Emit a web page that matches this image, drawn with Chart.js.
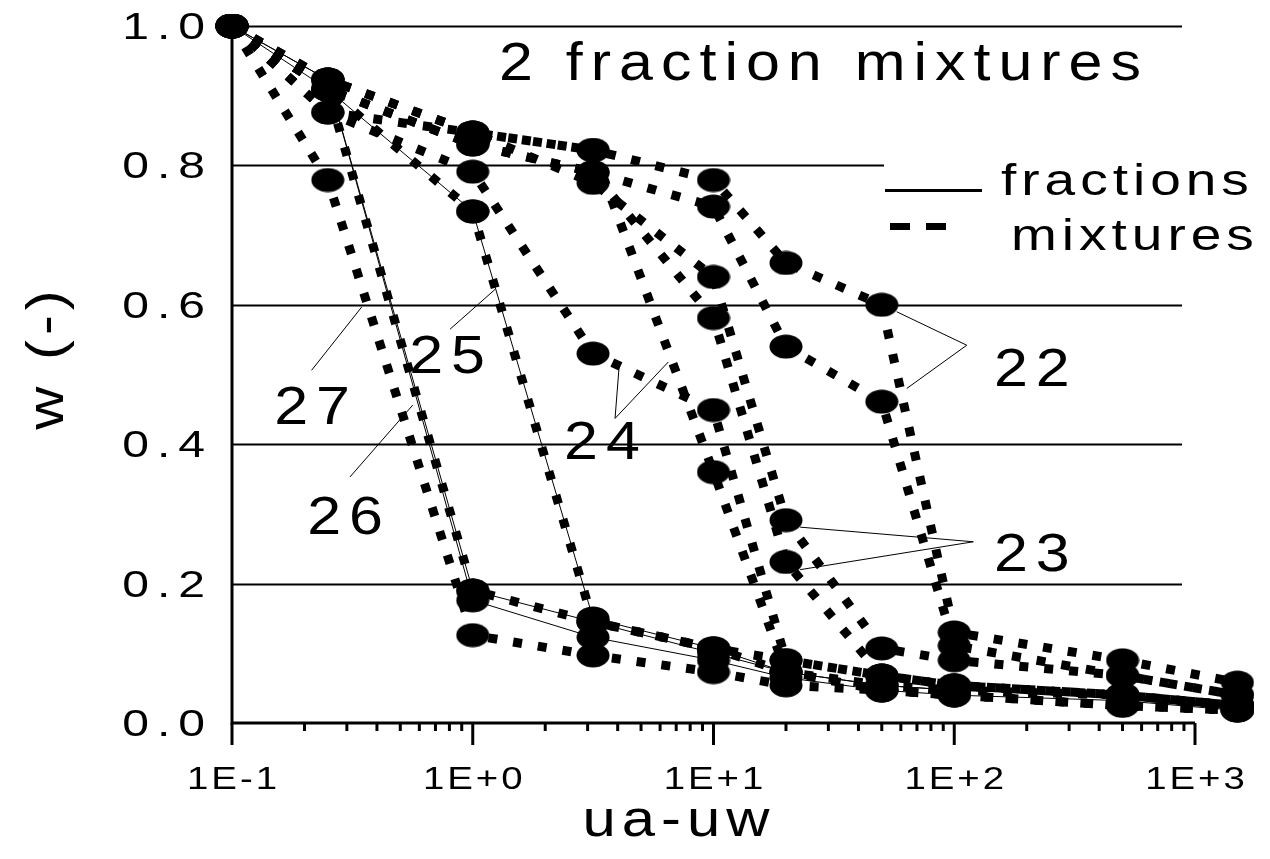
<!DOCTYPE html>
<html>
<head>
<meta charset="utf-8">
<script src="https://cdn.jsdelivr.net/npm/chart.js@4"></script>
<style>
  html, body { margin: 0; padding: 0; background: #fff; }
  #wrap { width: 1270px; height: 859px; }
</style>
</head>
<body>
<div id="wrap"><canvas id="retention"></canvas></div>
<script>
// suction steps (ua-uw) where w was measured
const suction = [0.1, 0.25, 1, 3.16, 10, 20, 50, 100, 500, 1500];

// single fractions (solid lines)
const frac25 = [1.0, 0.909, 0.734, 0.150, 0.107, 0.073, 0.054, 0.047, 0.040, 0.025];
const frac26 = [1.0, 0.923, 0.190, 0.145, 0.100, 0.073, 0.054, 0.047, 0.040, 0.025];
const frac27 = [1.0, 0.923, 0.176, 0.123, 0.090, 0.065, 0.047, 0.040, 0.032, 0.018];

// two-fraction mixtures (dotted lines)
const mix22a = [1.0, 0.923, 0.847, 0.822, 0.779, 0.660, 0.600, 0.130, 0.090, 0.058];
const mix22b = [1.0, 0.909, 0.830, 0.790, 0.741, 0.540, 0.461, 0.111, 0.068, 0.040];
const mix23a = [1.0, 0.923, 0.847, 0.775, 0.640, 0.291, 0.107, 0.090, 0.068, 0.040];
const mix23b = [1.0, 0.909, 0.830, 0.790, 0.581, 0.231, 0.068, 0.054, 0.040, 0.025];
const mix24a = [1.0, 0.876, 0.791, 0.530, 0.449, 0.090, 0.068, 0.054, 0.040, 0.025];
const mix24b = [1.0, 0.876, 0.847, 0.822, 0.360, 0.073, 0.047, 0.040, 0.025, 0.018];
const mix25  = [1.0, 0.909, 0.734, 0.145, 0.107, 0.073, 0.054, 0.047, 0.040, 0.025];
const mix26  = [1.0, 0.909, 0.190, 0.145, 0.107, 0.090, 0.068, 0.054, 0.040, 0.025];
const mix27  = [1.0, 0.779, 0.126, 0.097, 0.073, 0.054, 0.047, 0.040, 0.025, 0.018];

// axes
const xTickValues = [0.1, 1, 10, 100, 1000];
const xTickLabels = ['1E-1', '1E+0', '1E+1', '1E+2', '1E+3'];
const yTickValues = [0, 0.2, 0.4, 0.6, 0.8, 1.0];
const yTickLabels = ['0.0', '0.2', '0.4', '0.6', '0.8', '1.0'];

// curve numbers and their leader lines, in data units
const curveNames = ['22', '23', '24', '25', '26', '27'];
const namePos = [[210, 0.511], [210, 0.246], [3.44, 0.406], [0.782, 0.529], [0.295, 0.298], [0.215, 0.456]];
const leaders = [
  [[57.7, 0.590], [112.7, 0.542], [63.5, 0.480]],
  [[22.9, 0.281], [120, 0.260], [22.9, 0.220]],
  [[4.06, 0.514], [3.90, 0.437], [6.49, 0.518]],
  [[0.805, 0.565], [1.237, 0.622]],
  [[0.309, 0.353], [0.563, 0.456]],
  [[0.214, 0.506], [0.346, 0.597]]
];

const FONT = '"Liberation Sans", Arial, sans-serif';

// filled ellipse used as the point marker
const marker = document.createElement('canvas');
marker.width = 34;
marker.height = 25;
(function () {
  const c = marker.getContext('2d');
  c.fillStyle = '#000';
  c.beginPath();
  c.ellipse(17, 12.5, 16.5, 12, 0, 0, Math.PI * 2);
  c.fill();
})();

function pts(values) {
  return suction.map((s, i) => ({ x: s, y: values[i] }));
}

// pointRadius only widens the area check so the 1500 points past the axis end still get drawn
function solid(label, values) {
  return {
    label, data: pts(values),
    borderColor: '#000', borderWidth: 1,
    pointStyle: marker, pointRadius: 60,
    fill: false, tension: 0, clip: false
  };
}

function dotted(label, values) {
  return {
    label, data: pts(values),
    borderColor: '#000', borderWidth: 9, borderDash: [9, 16], borderCapStyle: 'butt',
    pointStyle: marker, pointRadius: 60,
    fill: false, tension: 0, clip: false
  };
}

// text with extra letter spacing and a horizontal stretch
function spacedText(ctx, str, x, y, size, spacing, align, hs) {
  hs = hs || 1;
  ctx.save();
  ctx.font = size + 'px ' + FONT;
  ctx.letterSpacing = (spacing / hs) + 'px';
  ctx.textAlign = 'left';
  ctx.textBaseline = 'alphabetic';
  ctx.fillStyle = '#000';
  const w = (ctx.measureText(str).width - spacing / hs) * hs;
  let left = x;
  if (align === 'center') left = x - w / 2;
  else if (align === 'right') left = x - w;
  ctx.translate(left, y);
  ctx.scale(hs, 1);
  ctx.fillText(str, 0, 0);
  ctx.restore();
}

// gridlines, axes, ticks, labels, legend and curve numbers
const frame = {
  id: 'frame',
  beforeDatasetsDraw(chart) {
    const { ctx, chartArea: a, scales: { y } } = chart;
    ctx.save();
    ctx.strokeStyle = '#000';
    ctx.lineWidth = 2;
    yTickValues.slice(1).forEach(v => {
      const py = Math.round(y.getPixelForValue(v)) + 0.5;
      ctx.beginPath();
      ctx.moveTo(a.left, py);
      ctx.lineTo(a.right - 13, py);
      ctx.stroke();
    });
    ctx.restore();
  },
  afterDraw(chart) {
    const { ctx, chartArea: a, scales: { x, y } } = chart;
    ctx.save();
    ctx.strokeStyle = '#000';
    ctx.fillStyle = '#000';

    // axis lines
    ctx.lineWidth = 3;
    ctx.beginPath();
    ctx.moveTo(a.left, a.top);
    ctx.lineTo(a.left, a.bottom);
    ctx.lineTo(a.right, a.bottom);
    ctx.stroke();

    // log ticks: long at each decade, short at 2..9
    xTickValues.forEach((v, i) => {
      const px = x.getPixelForValue(v);
      ctx.beginPath();
      ctx.moveTo(px, a.bottom);
      ctx.lineTo(px, a.bottom + 22);
      ctx.stroke();
      if (i < xTickValues.length - 1) {
        for (let k = 2; k <= 9; k++) {
          const mx = x.getPixelForValue(v * k);
          ctx.beginPath();
          ctx.moveTo(mx, a.bottom);
          ctx.lineTo(mx, a.bottom + 8);
          ctx.stroke();
        }
      }
      spacedText(ctx, xTickLabels[i], px, a.bottom + 66, 32, 3, 'center', 1.2);
    });

    yTickValues.forEach((v, i) => {
      spacedText(ctx, yTickLabels[i], 205, y.getPixelForValue(v) + 13, 37, 8, 'right', 1.3);
    });

    // axis titles
    spacedText(ctx, 'ua-uw', 676, 836, 52, 6, 'center', 1.15);
    ctx.save();
    ctx.translate(63, 360);
    ctx.rotate(-Math.PI / 2);
    spacedText(ctx, 'w (-)', 0, 0, 52, 5, 'center', 1.15);
    ctx.restore();

    // title
    spacedText(ctx, '2 fraction mixtures', 820, 80, 53, 8, 'center', 1.15);

    // legend
    ctx.fillStyle = '#fff';
    ctx.fillRect(884, 150, 386, 110);
    ctx.fillStyle = '#000';
    ctx.lineWidth = 3;
    ctx.beginPath();
    ctx.moveTo(885, 190.5);
    ctx.lineTo(982, 190.5);
    ctx.stroke();
    ctx.fillRect(890, 223, 20, 7);
    ctx.fillRect(926, 223, 20, 7);
    spacedText(ctx, 'fractions', 1001, 195, 44, 5, 'left', 1.25);
    spacedText(ctx, 'mixtures', 1011, 250, 44, 5, 'left', 1.25);

    // curve numbers with leader lines
    ctx.lineWidth = 1;
    leaders.forEach(path => {
      ctx.beginPath();
      path.forEach(([vx, vy], j) => {
        const px = x.getPixelForValue(vx), py = y.getPixelForValue(vy);
        if (j === 0) ctx.moveTo(px, py); else ctx.lineTo(px, py);
      });
      ctx.stroke();
    });
    curveNames.forEach((t, i) => {
      const px = x.getPixelForValue(namePos[i][0]);
      const py = y.getPixelForValue(namePos[i][1]);
      spacedText(ctx, t, px, py + 19, 53, 8, 'center', 1.15);
    });
    ctx.restore();
  }
};

new Chart(document.getElementById('retention'), {
  type: 'line',
  data: {
    datasets: [
      solid('fraction 25', frac25),
      solid('fraction 26', frac26),
      solid('fraction 27', frac27),
      dotted('mixture 22a', mix22a),
      dotted('mixture 22b', mix22b),
      dotted('mixture 23a', mix23a),
      dotted('mixture 23b', mix23b),
      dotted('mixture 24a', mix24a),
      dotted('mixture 24b', mix24b),
      dotted('mixture 25', mix25),
      dotted('mixture 26', mix26),
      dotted('mixture 27', mix27)
    ]
  },
  options: {
    animation: false,
    responsive: true,
    maintainAspectRatio: false,
    devicePixelRatio: 1,
    layout: { autoPadding: false, padding: { left: 232, top: 26, right: 75, bottom: 136 } },
    scales: {
      x: { type: 'logarithmic', min: 0.1, max: 1000, display: false },
      y: { type: 'linear', min: 0, max: 1, display: false }
    },
    plugins: {
      legend: { display: false },
      tooltip: { enabled: false }
    }
  },
  plugins: [frame]
});
</script>
</body>
</html>
